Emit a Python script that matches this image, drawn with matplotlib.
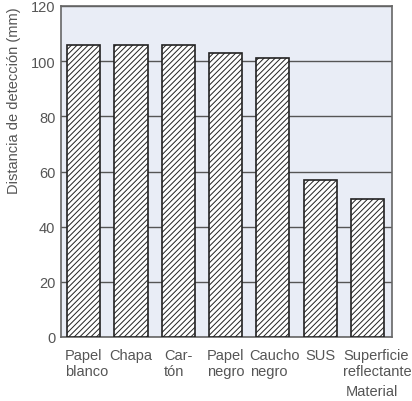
import matplotlib
matplotlib.use("Agg")
import matplotlib.pyplot as plt
import matplotlib.transforms as mtransforms

categories = ["Papel\nblanco", "Chapa", "Car-\ntón", "Papel\nnegro", "Caucho\nnegro", "SUS", "Superficie\nreflectante"]
values = [106, 106, 106, 103, 101, 57, 50]
yticks = [0, 20, 40, 60, 80, 100, 120]

plt.rcParams['font.family'] = ['Liberation Sans', 'DejaVu Sans']
plt.rcParams['hatch.linewidth'] = 0.7
plt.rcParams['hatch.color'] = '#222222'

W, H = 412, 402
fig = plt.figure(figsize=(W/100, H/100), dpi=100)
ax = fig.add_axes([61/W, 1-338/H, 331/W, 331/H])
ax.set_facecolor('#E9EDF6')

x = list(range(len(categories)))
ax.bar(x, values, width=0.70, color='white', edgecolor='#222222', linewidth=1.2,
       hatch='//////', zorder=3)
ax.set_xlim(-0.48, 6.52)
ax.set_ylim(0, 120)
ax.set_yticks(yticks)
ax.yaxis.grid(True, color='#555555', linewidth=1.0, zorder=1)
ax.set_axisbelow(True)
ax.tick_params(axis='y', length=0, labelsize=10.5, labelcolor='#555555', pad=4)
ax.tick_params(axis='x', length=0, labelsize=10.5, labelcolor='#555555', pad=8)
ax.set_xticks(x)
ax.set_xticklabels(categories, multialignment='left', linespacing=1.2)
# nudge labels like the reference
shifts = {0: 3, 4: 2, 6: 10}
for i, lab in enumerate(ax.get_xticklabels()):
    if i in shifts:
        lab.set_transform(lab.get_transform() +
                          mtransforms.ScaledTranslation(shifts[i]/100, 0, fig.dpi_scale_trans))
for s in ax.spines.values():
    s.set_color('#666666')
    s.set_linewidth(1.2)

fig.text(14/W, 1-7/H, "Distancia de detección (mm)", rotation=90, ha='center', va='top',
         fontsize=10.5, color='#555555')
fig.text(372/W, 1-392/H, "Material", ha='center', va='center', fontsize=10.5, color='#555555')

fig.savefig("out.png", dpi=100)
